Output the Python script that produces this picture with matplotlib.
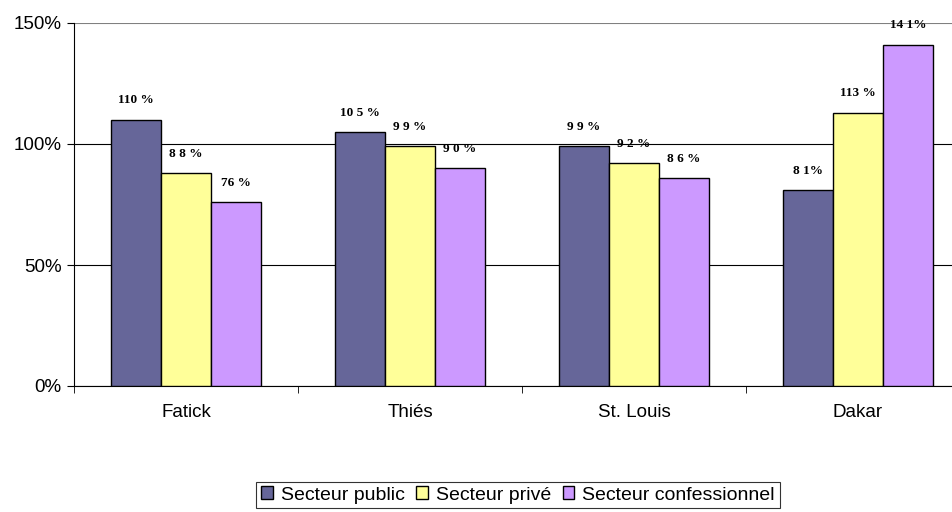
import numpy as np
import matplotlib.pyplot as plt
from matplotlib.patches import Patch

regions = ['Fatick', 'Thiés', 'St. Louis', 'Dakar']
public = [110, 105, 99, 81]
prive = [88, 99, 92, 113]
confess = [76, 90, 86, 141]
lab_public = ['110 %', '10 5 %', '9 9 %', '8 1%']
lab_prive = ['8 8 %', '9 9 %', '9 2 %', '113 %']
lab_confess = ['76 %', '9 0 %', '8 6 %', '14 1%']

colors = ['#666699', '#FFFF99', '#CC99FF']
names = ['Secteur public', 'Secteur privé', 'Secteur confessionnel']

plt.rcParams['font.family'] = ['Liberation Sans', 'DejaVu Sans']

fig = plt.figure(figsize=(9.53, 5.12), dpi=100)
ax = fig.add_axes([74 / 953, 1 - 386 / 512, 896 / 953, 363 / 512])

x = np.arange(len(regions))
w = 0.223
series = [public, prive, confess]
labels = [lab_public, lab_prive, lab_confess]
for i, (vals, labs) in enumerate(zip(series, labels)):
    pos = x + (i - 1) * w
    ax.bar(pos, vals, w, color=colors[i], edgecolor='black', linewidth=1, zorder=3)
    for p, v, t in zip(pos, vals, labs):
        ax.text(p, v + 5.5, t, ha='center', va='bottom', fontsize=9.5,
                fontweight='bold', family='Liberation Serif', zorder=4)

ax.set_xlim(-0.5, 3.5)
ax.set_ylim(0, 150)
ax.set_yticks([0, 50, 100, 150])
ax.set_yticklabels(['0%', '50%', '100%', '150%'], fontsize=13.5)
ax.yaxis.grid(True, color='black', linewidth=0.8, zorder=0)
ax.get_ygridlines()[-1].set_color('#808080')
ax.set_xticks(x)
ax.set_xticklabels(regions, fontsize=13.5)
ax.set_xticks(np.arange(-0.5, 4, 1), minor=True)
ax.tick_params(axis='x', which='major', length=0, pad=13)
ax.tick_params(axis='x', which='minor', length=5, direction='out')
ax.tick_params(axis='y', length=5, direction='out', pad=4)
for s in ['top', 'right']:
    ax.spines[s].set_visible(False)

handles = [Patch(facecolor=c, edgecolor='black', label=n) for c, n in zip(colors, names)]
leg = fig.legend(handles=handles, loc='center', bbox_to_anchor=(518 / 953, 1 - 495 / 512),
                 ncol=3, fontsize=14, frameon=True, fancybox=False, handlelength=0.6,
                 handleheight=0.6, handletextpad=0.4, columnspacing=0.6, borderpad=0.25,
                 borderaxespad=0)
leg.get_frame().set_edgecolor('black')
leg.get_frame().set_linewidth(0.8)

fig.savefig('out.png', dpi=100)
